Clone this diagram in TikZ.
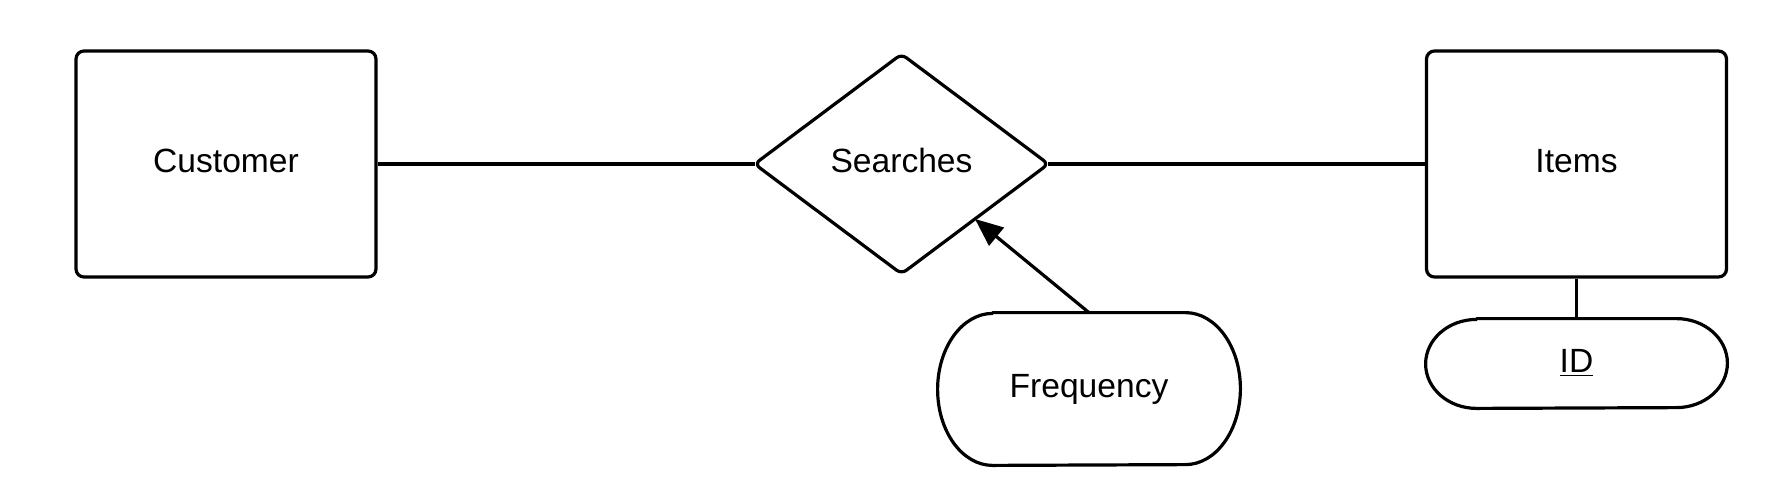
\documentclass[tikz,border=0pt]{standalone}
\usepackage{fontspec}
\setmainfont{Liberation Sans}
\usetikzlibrary{arrows.meta,calc}
\tikzset{
  lbl/.style={inner sep=0pt, font=\fontsize{16.8}{19}\selectfont},
  entity/.style={lbl, draw, line width=1.6pt, rounded corners=4pt, minimum width=150pt, minimum height=113pt},
  frame/.style={lbl, minimum width=#1},
  conn/.style={line width=1.6pt},
  outline/.style={line width=1.6pt, line join=round},
  arr/.style={conn, -{Triangle[length=14pt,width=11.5pt]}}
}
\newcommand\erstadium[3]{%
  \draw[outline] ([xshift=#2]#1.north west) -- ([xshift=-#2]#1.north east)
    arc[start angle=90,end angle=-90,x radius=#2,y radius=#3]
    -- ([xshift=#2]#1.south west)
    arc[start angle=270,end angle=90,x radius=#2,y radius=#3] -- cycle;}
\begin{document}
\begin{tikzpicture}[x=0.5pt,y=-0.5pt]
\useasboundingbox (0,0) rectangle (1782,484);
\node[entity] (cust) at (226,164) {\raisebox{3.5pt}{Customer}};
\node[entity] (items) at (1576.5,164) {\raisebox{3.5pt}{Items}};
\node[frame=146.5pt, minimum height=109.5pt] (s) at (901.5,164) {\raisebox{3.5pt}{Searches}};
\draw[outline, rounded corners=3pt] (s.west) -- (s.north) -- (s.east) -- (s.south) -- cycle;
\node[frame=151pt, minimum height=76pt] (f) at (1089,389) {Frequency};
\erstadium{f}{27.5pt}{38pt}
\node[frame=150.5pt, minimum height=44.5pt] (id) at (1576.5,363.5) {\raisebox{2.5pt}{\underline{ID}}};
\erstadium{id}{25.5pt}{22.25pt}
\coordinate (sedge) at ($(s.east)!0.5!(s.south)$);
\draw[conn] (cust.east) -- (s.west);
\draw[conn] (s.east) -- (items.west);
\draw[conn] (items.south) -- (id.north);
\draw[arr] (f.north) -- (sedge);
\end{tikzpicture}
\end{document}
